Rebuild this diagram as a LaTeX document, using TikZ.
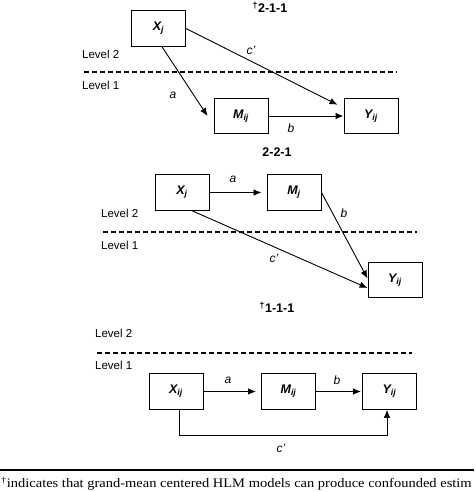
\documentclass[tikz,border=0pt]{standalone}
\usepackage{fontspec}
\usepackage{graphicx}
\setmainfont{Liberation Sans}
\newfontfamily\fnserif{Liberation Serif}
\usetikzlibrary{arrows.meta,calc}
\tikzset{
  varbox/.style={draw, line width=1pt, minimum width=54pt, minimum height=35.5pt, inner sep=0pt,
    font=\fontsize{12.5}{14}\selectfont\bfseries\itshape},
  lvl/.style={anchor=west, inner sep=0pt, font=\fontsize{11.5}{13}\selectfont},
  ttl/.style={inner sep=0pt, font=\fontsize{12.5}{14}\selectfont\bfseries},
  lab/.style={inner sep=0pt, font=\fontsize{12}{14}\selectfont\itshape},
  arr/.style={line width=0.9pt, -{Latex[length=8pt,width=6.5pt]}},
  lvline/.style={line width=1.2pt, dash pattern=on 5pt off 3pt},
}
\begin{document}
\begin{tikzpicture}[x=1pt,y=-1pt]
\useasboundingbox (0,0) rectangle (474,492);
% ---------- panel 1 : 2-1-1
\node[ttl] (t1) at (270,7.5) {\textsuperscript{†}2-1-1};
\node[varbox] (X1) at (158.5,28.5) {X\textsubscript{j}};
\node[varbox] (M1) at (241,116) {M\textsubscript{ij}};
\node[varbox] (Y1) at (371,116) {Y\textsubscript{ij}};
\node[lvl] (L12) at (82,54) {Level 2};
\node[lvl] (L11) at (82,85) {Level 1};
\coordinate (d1a) at (84,72);
\coordinate (d1b) at (397,72);
\draw[lvline] (d1a) -- (d1b);
\draw[arr] ([xshift=3.5pt]X1.south) -- ([xshift=-6pt]M1.west);
\draw[arr] (X1.east) -- ([xshift=-6pt,yshift=-7pt]Y1.north west);
\draw[arr] (M1.east) -- (Y1.west);
\node[lab] (a1) at (173,95) {a};
\node[lab] (c1) at (251,50) {c'};
\node[lab] (b1) at (291,128) {b};
% ---------- panel 2 : 2-2-1
\node[ttl] (t2) at (277,152) {2-2-1};
\node[varbox] (X2) at (182,192.5) {X\textsubscript{j}};
\node[varbox] (M2) at (294,192.5) {M\textsubscript{j}};
\node[varbox] (Y2) at (395,280) {Y\textsubscript{ij}};
\node[lvl] (L22) at (101,213) {Level 2};
\node[lvl] (L21) at (101,245) {Level 1};
\coordinate (d2a) at (103,232);
\coordinate (d2b) at (417,232);
\draw[lvline] (d2a) -- (d2b);
\draw[arr] (X2.east) -- ([xshift=-5pt]M2.west);
\draw[arr] (M2.east) -- ([yshift=1.5pt]Y2.west);
\draw[arr] ([xshift=10pt]X2.south) -- ([yshift=-8pt]Y2.west);
\node[lab] (a2) at (233,179) {a};
\node[lab] (b2) at (344,213) {b};
\node[lab] (c2) at (274,258) {c'};
% ---------- panel 3 : 1-1-1
\node[ttl] (t3) at (277,307.5) {\textsuperscript{†}1-1-1};
\node[lvl] (L32) at (95,333) {Level 2};
\node[lvl] (L31) at (95,365) {Level 1};
\coordinate (d3a) at (97,353);
\coordinate (d3b) at (412,353);
\draw[lvline] (d3a) -- (d3b);
\node[varbox] (X3) at (176,391.5) {X\textsubscript{ij}};
\node[varbox] (M3) at (288.5,391.5) {M\textsubscript{ij}};
\node[varbox] (Y3) at (389.5,391.5) {Y\textsubscript{ij}};
\draw[arr] (X3.east) -- ([xshift=-5pt]M3.west);
\draw[arr] (M3.east) -- ([xshift=-1pt]Y3.west);
\coordinate (c3a) at (179,435);
\coordinate (c3b) at (387,435);
\draw[arr] ([xshift=3pt]X3.south) -- (c3a) -- (c3b) -- ([xshift=-2.5pt]Y3.south);
\node[lab] (a3) at (228,380) {a};
\node[lab] (b3) at (337,380) {b};
\node[lab] (c3) at (281,448) {c'};
% ---------- footnote
\coordinate (r1) at (0,470);
\coordinate (r2) at (474,470);
\draw[line width=1.5pt] (r1) -- (r2);
\node[anchor=base west, inner sep=0pt] (fn) at (1,487.5)
  {\scalebox{1.115}[1]{\fnserif\fontsize{13}{15}\selectfont\textsuperscript{†}indicates that grand-mean centered HLM models can produce confounded estim}};
\end{tikzpicture}
\end{document}
